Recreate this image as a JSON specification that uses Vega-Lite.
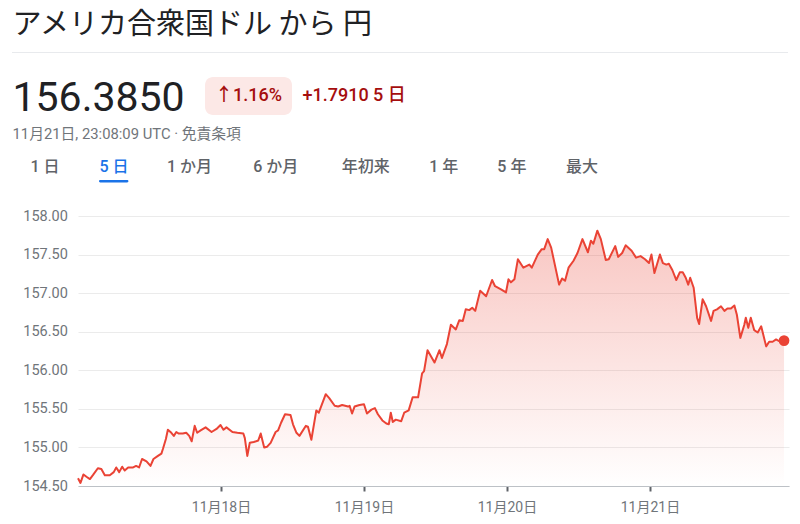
{
  "$schema": "https://vega.github.io/schema/vega-lite/v6.json",
  "background": "white",
  "padding": {"left": 12, "top": 0, "right": 12, "bottom": 0},
  "spacing": 0,
  "config": {
    "view": {"stroke": null},
    "text": {"font": "Roboto, Noto Sans CJK JP"}
  },
  "datasets": {
    "fx": [
      {"t": "2025-11-17T00:00:00Z", "v": 154.60},
      {"t": "2025-11-17T00:25:00Z", "v": 154.54},
      {"t": "2025-11-17T00:55:00Z", "v": 154.65},
      {"t": "2025-11-17T01:25:00Z", "v": 154.62},
      {"t": "2025-11-17T02:00:00Z", "v": 154.59},
      {"t": "2025-11-17T02:30:00Z", "v": 154.64},
      {"t": "2025-11-17T03:20:00Z", "v": 154.73},
      {"t": "2025-11-17T03:55:00Z", "v": 154.72},
      {"t": "2025-11-17T04:30:00Z", "v": 154.64},
      {"t": "2025-11-17T05:20:00Z", "v": 154.64},
      {"t": "2025-11-17T06:00:00Z", "v": 154.68},
      {"t": "2025-11-17T06:25:00Z", "v": 154.74},
      {"t": "2025-11-17T06:55:00Z", "v": 154.68},
      {"t": "2025-11-17T07:25:00Z", "v": 154.75},
      {"t": "2025-11-17T07:50:00Z", "v": 154.70},
      {"t": "2025-11-17T08:25:00Z", "v": 154.74},
      {"t": "2025-11-17T09:15:00Z", "v": 154.74},
      {"t": "2025-11-17T09:45:00Z", "v": 154.76},
      {"t": "2025-11-17T10:15:00Z", "v": 154.74},
      {"t": "2025-11-17T10:45:00Z", "v": 154.85},
      {"t": "2025-11-17T11:30:00Z", "v": 154.82},
      {"t": "2025-11-17T12:10:00Z", "v": 154.76},
      {"t": "2025-11-17T12:40:00Z", "v": 154.85},
      {"t": "2025-11-17T13:25:00Z", "v": 154.89},
      {"t": "2025-11-17T14:00:00Z", "v": 154.92},
      {"t": "2025-11-17T14:15:00Z", "v": 154.98},
      {"t": "2025-11-17T14:45:00Z", "v": 155.11},
      {"t": "2025-11-17T15:05:00Z", "v": 155.23},
      {"t": "2025-11-17T15:40:00Z", "v": 155.19},
      {"t": "2025-11-17T16:05:00Z", "v": 155.15},
      {"t": "2025-11-17T16:30:00Z", "v": 155.20},
      {"t": "2025-11-17T16:55:00Z", "v": 155.18},
      {"t": "2025-11-17T17:35:00Z", "v": 155.18},
      {"t": "2025-11-17T18:10:00Z", "v": 155.19},
      {"t": "2025-11-17T18:40:00Z", "v": 155.15},
      {"t": "2025-11-17T19:05:00Z", "v": 155.08},
      {"t": "2025-11-17T19:35:00Z", "v": 155.28},
      {"t": "2025-11-17T20:00:00Z", "v": 155.19},
      {"t": "2025-11-17T20:35:00Z", "v": 155.22},
      {"t": "2025-11-17T21:25:00Z", "v": 155.26},
      {"t": "2025-11-17T22:25:00Z", "v": 155.20},
      {"t": "2025-11-17T23:15:00Z", "v": 155.24},
      {"t": "2025-11-17T23:55:00Z", "v": 155.29},
      {"t": "2025-11-18T00:25:00Z", "v": 155.23},
      {"t": "2025-11-18T00:55:00Z", "v": 155.26},
      {"t": "2025-11-18T01:55:00Z", "v": 155.20},
      {"t": "2025-11-18T02:45:00Z", "v": 155.19},
      {"t": "2025-11-18T03:45:00Z", "v": 155.18},
      {"t": "2025-11-18T04:00:00Z", "v": 155.12},
      {"t": "2025-11-18T04:25:00Z", "v": 154.89},
      {"t": "2025-11-18T04:50:00Z", "v": 155.06},
      {"t": "2025-11-18T05:30:00Z", "v": 155.07},
      {"t": "2025-11-18T06:15:00Z", "v": 155.09},
      {"t": "2025-11-18T06:40:00Z", "v": 155.18},
      {"t": "2025-11-18T07:15:00Z", "v": 155.00},
      {"t": "2025-11-18T07:45:00Z", "v": 155.01},
      {"t": "2025-11-18T08:20:00Z", "v": 155.06},
      {"t": "2025-11-18T09:10:00Z", "v": 155.20},
      {"t": "2025-11-18T09:35:00Z", "v": 155.22},
      {"t": "2025-11-18T10:05:00Z", "v": 155.32},
      {"t": "2025-11-18T10:45:00Z", "v": 155.43},
      {"t": "2025-11-18T11:40:00Z", "v": 155.42},
      {"t": "2025-11-18T12:05:00Z", "v": 155.30},
      {"t": "2025-11-18T12:40:00Z", "v": 155.19},
      {"t": "2025-11-18T13:10:00Z", "v": 155.15},
      {"t": "2025-11-18T14:15:00Z", "v": 155.28},
      {"t": "2025-11-18T14:35:00Z", "v": 155.27},
      {"t": "2025-11-18T15:10:00Z", "v": 155.10},
      {"t": "2025-11-18T16:00:00Z", "v": 155.48},
      {"t": "2025-11-18T16:25:00Z", "v": 155.45},
      {"t": "2025-11-18T17:35:00Z", "v": 155.69},
      {"t": "2025-11-18T18:10:00Z", "v": 155.64},
      {"t": "2025-11-18T19:05:00Z", "v": 155.54},
      {"t": "2025-11-18T19:40:00Z", "v": 155.53},
      {"t": "2025-11-18T20:20:00Z", "v": 155.55},
      {"t": "2025-11-18T21:20:00Z", "v": 155.53},
      {"t": "2025-11-18T21:35:00Z", "v": 155.54},
      {"t": "2025-11-18T22:00:00Z", "v": 155.44},
      {"t": "2025-11-18T22:25:00Z", "v": 155.53},
      {"t": "2025-11-18T23:15:00Z", "v": 155.55},
      {"t": "2025-11-19T00:00:00Z", "v": 155.56},
      {"t": "2025-11-19T00:30:00Z", "v": 155.44},
      {"t": "2025-11-19T01:15:00Z", "v": 155.49},
      {"t": "2025-11-19T01:50:00Z", "v": 155.51},
      {"t": "2025-11-19T02:20:00Z", "v": 155.43},
      {"t": "2025-11-19T03:05:00Z", "v": 155.35},
      {"t": "2025-11-19T03:45:00Z", "v": 155.31},
      {"t": "2025-11-19T04:10:00Z", "v": 155.30},
      {"t": "2025-11-19T04:30:00Z", "v": 155.45},
      {"t": "2025-11-19T04:50:00Z", "v": 155.33},
      {"t": "2025-11-19T05:20:00Z", "v": 155.36},
      {"t": "2025-11-19T06:15:00Z", "v": 155.34},
      {"t": "2025-11-19T06:45:00Z", "v": 155.45},
      {"t": "2025-11-19T07:30:00Z", "v": 155.48},
      {"t": "2025-11-19T08:10:00Z", "v": 155.65},
      {"t": "2025-11-19T09:05:00Z", "v": 155.65},
      {"t": "2025-11-19T09:45:00Z", "v": 155.96},
      {"t": "2025-11-19T10:05:00Z", "v": 155.99},
      {"t": "2025-11-19T10:40:00Z", "v": 156.26},
      {"t": "2025-11-19T11:50:00Z", "v": 156.10},
      {"t": "2025-11-19T12:40:00Z", "v": 156.26},
      {"t": "2025-11-19T13:05:00Z", "v": 156.16},
      {"t": "2025-11-19T13:55:00Z", "v": 156.34},
      {"t": "2025-11-19T14:35:00Z", "v": 156.59},
      {"t": "2025-11-19T15:25:00Z", "v": 156.53},
      {"t": "2025-11-19T16:00:00Z", "v": 156.65},
      {"t": "2025-11-19T16:35:00Z", "v": 156.64},
      {"t": "2025-11-19T17:05:00Z", "v": 156.79},
      {"t": "2025-11-19T17:40:00Z", "v": 156.78},
      {"t": "2025-11-19T18:10:00Z", "v": 156.81},
      {"t": "2025-11-19T18:40:00Z", "v": 156.77},
      {"t": "2025-11-19T19:30:00Z", "v": 157.03},
      {"t": "2025-11-19T20:30:00Z", "v": 156.96},
      {"t": "2025-11-19T21:30:00Z", "v": 157.17},
      {"t": "2025-11-19T22:00:00Z", "v": 157.09},
      {"t": "2025-11-19T23:00:00Z", "v": 157.05},
      {"t": "2025-11-19T23:50:00Z", "v": 157.01},
      {"t": "2025-11-20T00:15:00Z", "v": 157.18},
      {"t": "2025-11-20T00:40:00Z", "v": 157.14},
      {"t": "2025-11-20T01:15:00Z", "v": 157.18},
      {"t": "2025-11-20T01:50:00Z", "v": 157.44},
      {"t": "2025-11-20T02:45:00Z", "v": 157.33},
      {"t": "2025-11-20T03:45:00Z", "v": 157.37},
      {"t": "2025-11-20T04:10:00Z", "v": 157.33},
      {"t": "2025-11-20T05:10:00Z", "v": 157.50},
      {"t": "2025-11-20T05:50:00Z", "v": 157.57},
      {"t": "2025-11-20T06:15:00Z", "v": 157.57},
      {"t": "2025-11-20T06:50:00Z", "v": 157.70},
      {"t": "2025-11-20T07:25:00Z", "v": 157.59},
      {"t": "2025-11-20T08:45:00Z", "v": 157.11},
      {"t": "2025-11-20T09:15:00Z", "v": 157.19},
      {"t": "2025-11-20T09:45:00Z", "v": 157.16},
      {"t": "2025-11-20T10:20:00Z", "v": 157.33},
      {"t": "2025-11-20T11:10:00Z", "v": 157.42},
      {"t": "2025-11-20T11:50:00Z", "v": 157.52},
      {"t": "2025-11-20T12:40:00Z", "v": 157.70},
      {"t": "2025-11-20T13:35:00Z", "v": 157.53},
      {"t": "2025-11-20T14:05:00Z", "v": 157.68},
      {"t": "2025-11-20T14:30:00Z", "v": 157.64},
      {"t": "2025-11-20T15:10:00Z", "v": 157.81},
      {"t": "2025-11-20T15:45:00Z", "v": 157.70},
      {"t": "2025-11-20T16:35:00Z", "v": 157.43},
      {"t": "2025-11-20T17:05:00Z", "v": 157.44},
      {"t": "2025-11-20T18:10:00Z", "v": 157.61},
      {"t": "2025-11-20T18:40:00Z", "v": 157.47},
      {"t": "2025-11-20T19:20:00Z", "v": 157.52},
      {"t": "2025-11-20T19:55:00Z", "v": 157.62},
      {"t": "2025-11-20T20:55:00Z", "v": 157.55},
      {"t": "2025-11-20T21:40:00Z", "v": 157.46},
      {"t": "2025-11-20T22:25:00Z", "v": 157.48},
      {"t": "2025-11-20T23:10:00Z", "v": 157.44},
      {"t": "2025-11-20T23:50:00Z", "v": 157.39},
      {"t": "2025-11-21T00:15:00Z", "v": 157.50},
      {"t": "2025-11-21T00:45:00Z", "v": 157.26},
      {"t": "2025-11-21T01:40:00Z", "v": 157.50},
      {"t": "2025-11-21T02:10:00Z", "v": 157.39},
      {"t": "2025-11-21T02:45:00Z", "v": 157.37},
      {"t": "2025-11-21T03:10:00Z", "v": 157.38},
      {"t": "2025-11-21T03:45:00Z", "v": 157.30},
      {"t": "2025-11-21T04:25:00Z", "v": 157.17},
      {"t": "2025-11-21T05:00:00Z", "v": 157.27},
      {"t": "2025-11-21T05:30:00Z", "v": 157.27},
      {"t": "2025-11-21T06:00:00Z", "v": 157.20},
      {"t": "2025-11-21T06:25:00Z", "v": 157.11},
      {"t": "2025-11-21T06:45:00Z", "v": 157.20},
      {"t": "2025-11-21T07:20:00Z", "v": 157.07},
      {"t": "2025-11-21T07:55:00Z", "v": 156.68},
      {"t": "2025-11-21T08:15:00Z", "v": 156.60},
      {"t": "2025-11-21T08:50:00Z", "v": 156.92},
      {"t": "2025-11-21T09:25:00Z", "v": 156.83},
      {"t": "2025-11-21T10:15:00Z", "v": 156.64},
      {"t": "2025-11-21T10:40:00Z", "v": 156.77},
      {"t": "2025-11-21T11:15:00Z", "v": 156.79},
      {"t": "2025-11-21T11:55:00Z", "v": 156.83},
      {"t": "2025-11-21T12:30:00Z", "v": 156.77},
      {"t": "2025-11-21T13:00:00Z", "v": 156.80},
      {"t": "2025-11-21T13:35:00Z", "v": 156.80},
      {"t": "2025-11-21T14:10:00Z", "v": 156.84},
      {"t": "2025-11-21T14:35:00Z", "v": 156.72},
      {"t": "2025-11-21T15:10:00Z", "v": 156.42},
      {"t": "2025-11-21T15:50:00Z", "v": 156.59},
      {"t": "2025-11-21T16:05:00Z", "v": 156.68},
      {"t": "2025-11-21T16:30:00Z", "v": 156.55},
      {"t": "2025-11-21T16:55:00Z", "v": 156.68},
      {"t": "2025-11-21T17:30:00Z", "v": 156.52},
      {"t": "2025-11-21T18:05:00Z", "v": 156.49},
      {"t": "2025-11-21T18:40:00Z", "v": 156.57},
      {"t": "2025-11-21T19:30:00Z", "v": 156.31},
      {"t": "2025-11-21T20:00:00Z", "v": 156.37},
      {"t": "2025-11-21T20:35:00Z", "v": 156.37},
      {"t": "2025-11-21T21:10:00Z", "v": 156.40},
      {"t": "2025-11-21T21:50:00Z", "v": 156.37},
      {"t": "2025-11-21T22:30:00Z", "v": 156.385}
    ]
  },
  "vconcat": [
    {
      "width": 1, "height": 52,
      "data": {"values": [{"s": "アメリカ合衆国ドル から 円"}]},
      "mark": {"type": "text", "align": "left", "baseline": "middle", "dy": -1, "font": "Noto Sans CJK JP", "fontSize": 29, "color": "#202124"},
      "encoding": {"text": {"field": "s"}}
    },
    {
      "width": 776, "height": 1,
      "view": {"fill": "#e8eaed", "stroke": null},
      "data": {"values": []},
      "mark": "text"
    },
    {
      "width": 1, "height": 24,
      "data": {"values": []},
      "mark": "text"
    },
    {
      "spacing": 20,
      "hconcat": [
        {
          "width": 1, "height": 38,
          "data": {"values": [{"s": "156.3850"}]},
          "mark": {"type": "text", "align": "left", "baseline": "middle", "dy": 3, "font": "Roboto", "fontSize": 41, "color": "#202124"},
          "encoding": {"text": {"field": "s"}}
        },
        {
          "spacing": 10,
          "hconcat": [
            {
              "width": 87, "height": 38,
              "view": {"fill": "#fce8e6", "stroke": null, "cornerRadius": 8},
              "data": {"values": [{"s": "↑1.16%"}]},
              "mark": {"type": "text", "align": "center", "baseline": "middle", "fontSize": 18, "fontWeight": 500, "color": "#a50e0e"},
              "encoding": {"text": {"field": "s"}}
            },
            {
              "width": 1, "height": 38,
              "data": {"values": [{"s": "+1.7910 5 日"}]},
              "mark": {"type": "text", "align": "left", "baseline": "middle", "fontSize": 18, "fontWeight": 500, "color": "#a50e0e"},
              "encoding": {"text": {"field": "s"}}
            }
          ]
        }
      ]
    },
    {
      "width": 1, "height": 32,
      "data": {"values": [{"s": "11月21日, 23:08:09 UTC · 免責条項"}]},
      "mark": {"type": "text", "align": "left", "baseline": "middle", "fontSize": 14.8, "color": "#70757a"},
      "encoding": {"text": {"field": "s"}}
    },
    {
      "spacing": 0,
      "hconcat": [
        {"width": 2.3, "height": 1, "data": {"values": []}, "mark": "text"},
        {"width": 60, "height": 29, "data": {"values": [{"s": "1 日"}]}, "mark": {"type": "text", "align": "center", "baseline": "middle", "dy": 1.5, "fontSize": 16, "fontWeight": 500, "color": "#5f6368"}, "encoding": {"text": {"field": "s"}}},
        {
          "spacing": 0,
          "vconcat": [
            {"width": 78, "height": 29, "data": {"values": [{"s": "5 日"}]}, "mark": {"type": "text", "align": "center", "baseline": "middle", "dy": 1.5, "fontSize": 16, "fontWeight": 500, "color": "#1a73e8"}, "encoding": {"text": {"field": "s"}}},
            {
              "spacing": 0,
              "hconcat": [
                {"width": 24, "height": 1, "data": {"values": []}, "mark": "text"},
                {"width": 29.4, "height": 2.5, "view": {"fill": "#1a73e8", "stroke": null, "cornerRadius": 1.2}, "data": {"values": []}, "mark": "text"}
              ]
            }
          ]
        },
        {"width": 73, "height": 29, "data": {"values": [{"s": "1 か月"}]}, "mark": {"type": "text", "align": "center", "baseline": "middle", "dy": 1.5, "fontSize": 16, "fontWeight": 500, "color": "#5f6368"}, "encoding": {"text": {"field": "s"}}},
        {"width": 99.4, "height": 29, "data": {"values": [{"s": "6 か月"}]}, "mark": {"type": "text", "align": "center", "baseline": "middle", "dy": 1.5, "fontSize": 16, "fontWeight": 500, "color": "#5f6368"}, "encoding": {"text": {"field": "s"}}},
        {"width": 79.5, "height": 29, "data": {"values": [{"s": "年初来"}]}, "mark": {"type": "text", "align": "center", "baseline": "middle", "dy": 1.5, "fontSize": 16, "fontWeight": 500, "color": "#5f6368"}, "encoding": {"text": {"field": "s"}}},
        {"width": 75.4, "height": 29, "data": {"values": [{"s": "1 年"}]}, "mark": {"type": "text", "align": "center", "baseline": "middle", "dy": 1.5, "fontSize": 16, "fontWeight": 500, "color": "#5f6368"}, "encoding": {"text": {"field": "s"}}},
        {"width": 59.7, "height": 29, "data": {"values": [{"s": "5 年"}]}, "mark": {"type": "text", "align": "center", "baseline": "middle", "dy": 1.5, "fontSize": 16, "fontWeight": 500, "color": "#5f6368"}, "encoding": {"text": {"field": "s"}}},
        {"width": 80, "height": 29, "data": {"values": [{"s": "最大"}]}, "mark": {"type": "text", "align": "center", "baseline": "middle", "dy": 1.5, "fontSize": 16, "fontWeight": 500, "color": "#5f6368"}, "encoding": {"text": {"field": "s"}}}
      ]
    },
    {
      "width": 1, "height": 25,
      "data": {"values": []},
      "mark": "text"
    },
    {
      "spacing": 9,
      "hconcat": [
        {"width": 1, "height": 1, "data": {"values": []}, "mark": "text"},
        {
          "width": 711, "height": 270,
          "data": {"name": "fx"},
          "encoding": {
            "x": {
              "field": "t", "type": "temporal",
              "scale": {"type": "utc", "domain": [{"year": 2025, "month": 11, "date": 17, "utc": true}, {"year": 2025, "month": 11, "date": 21, "hours": 23, "minutes": 20, "utc": true}]},
              "axis": {
                "title": null,
                "values": [{"year": 2025, "month": 11, "date": 18, "utc": true}, {"year": 2025, "month": 11, "date": 19, "utc": true}, {"year": 2025, "month": 11, "date": 20, "utc": true}, {"year": 2025, "month": 11, "date": 21, "utc": true}],
                "labelExpr": "utcFormat(datum.value, '%-m月%-d日')",
                "grid": false,
                "domainColor": "#bdc1c6", "domainWidth": 1,
                "tickColor": "#5f6368", "tickSize": 5, "tickWidth": 2,
                "labelPadding": 9, "labelFontSize": 14, "labelColor": "#70757a",
                "labelFont": "Roboto, Noto Sans CJK JP"
              }
            },
            "y": {
              "field": "v", "type": "quantitative",
              "stack": null,
              "scale": {"domain": [154.5, 158], "zero": false},
              "axis": {
                "title": null,
                "values": [154.5, 155, 155.5, 156, 156.5, 157, 157.5, 158],
                "format": ".2f",
                "domain": false, "ticks": false, "tickSize": 0,
                "gridColor": "#ebebeb", "gridWidth": 1,
                "labelPadding": 10.6, "labelFontSize": 14.5, "labelColor": "#70757a",
                "labelFont": "Roboto"
              }
            }
          },
          "layer": [
            {
              "mark": {
                "type": "area",
                "color": {"gradient": "linear", "x1": 0, "y1": 0, "x2": 0, "y2": 1,
                  "stops": [{"offset": 0, "color": "rgba(234,67,53,0.30)"}, {"offset": 1, "color": "rgba(234,67,53,0.0)"}]}
              }
            },
            {
              "mark": {"type": "line", "color": "#ea4335", "strokeWidth": 2, "strokeJoin": "round"}
            },
            {
              "transform": [{"filter": "datum.v === 156.385"}],
              "mark": {"type": "point", "filled": true, "size": 115, "color": "#ea4335", "opacity": 1}
            }
          ]
        }
      ]
    }
  ]
}
